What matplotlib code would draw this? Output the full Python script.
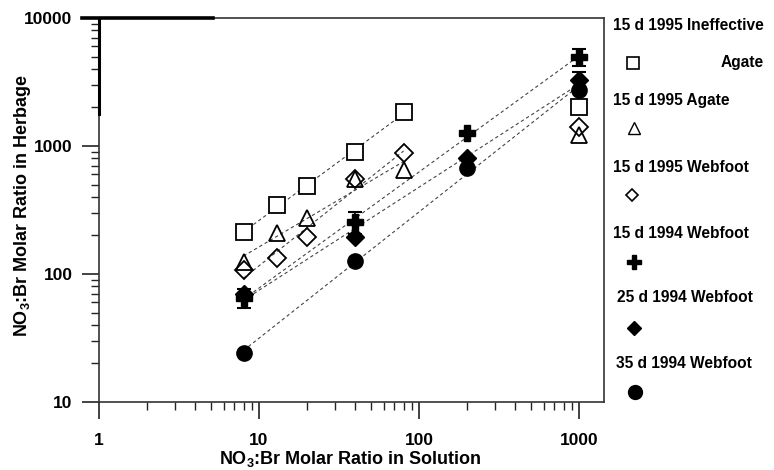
# -*- coding: utf-8 -*-

# NO3:Br ratio in herbage vs. ratio in solution, log-log scatter with fit lines
import numpy as np
import matplotlib
matplotlib.use('Agg')
import matplotlib.pyplot as plt
from matplotlib.lines import Line2D
from matplotlib.ticker import NullFormatter

plt.rcParams['font.family'] = ['Liberation Sans', 'DejaVu Sans']
plt.rcParams['font.weight'] = 'bold'
plt.rcParams['mathtext.fontset'] = 'custom'
plt.rcParams['mathtext.rm'] = 'Liberation Sans:bold'
plt.rcParams['mathtext.default'] = 'rm'

# 1995 harvests (15 d)
ineff_x = [8, 13, 20, 40, 80, 1000]
ineff_y = [213, 346, 487, 898, 1846, 2018]
agate_x = [8, 13, 20, 40, 80, 1000]
agate_y = [124, 209, 274, 552, 649, 1219]
web95_x = [8, 13, 20, 40, 80, 1000]
web95_y = [107, 133, 195, 552, 881, 1407]

# 1994 Webfoot harvests
web94_x = [8, 40, 200, 1000]
web94_15_y = [65, 255, 1260, 4950]
web94_15_err = [11, 50, 0, 750]
web94_25_y = [70, 195, 806, 3280]
web94_25_err = [0, 0, 0, 500]
web94_35_y = [24, 127, 673, 2740]

labels = ['15 d 1995 Ineffective', '15 d 1995 Agate', '15 d 1995 Webfoot',
          '15 d 1994 Webfoot', '25 d 1994 Webfoot', '35 d 1994 Webfoot']

fig = plt.figure(figsize=(7.74, 4.70), dpi=100)
ax = fig.add_axes([0.1279, 0.1447, 0.6525, 0.817])


def fit_line(x, y, xmax):
    # least squares in log space over the points up to xmax
    x = np.array(x, float)
    y = np.array(y, float)
    m = x <= xmax
    p = np.polyfit(np.log10(x[m]), np.log10(y[m]), 1)
    xs = np.array([x[m].min(), x[m].max()])
    ax.plot(xs, 10 ** np.polyval(p, np.log10(xs)), color='#444444',
            lw=0.8, ls=(0, (3, 2.5)), zorder=1)


fit_line(ineff_x, ineff_y, 80)
fit_line(agate_x, agate_y, 80)
fit_line(web95_x, web95_y, 80)
fit_line(web94_x, web94_15_y, 1000)
fit_line(web94_x, web94_25_y, 1000)
fit_line(web94_x, web94_35_y, 1000)

ms = 11
ax.plot(ineff_x, ineff_y, 's', ms=ms, mfc='white', mec='black', mew=1.3, zorder=3)
ax.plot(agate_x, agate_y, '^', ms=ms, mfc='none', mec='black', mew=1.3, zorder=3)
ax.plot(web95_x, web95_y, 'D', ms=9.5, mfc='none', mec='black', mew=1.3, zorder=3)
ax.errorbar(web94_x, web94_25_y, yerr=web94_25_err, fmt='D', ms=9, color='black',
            capsize=5, elinewidth=1.2, capthick=1.5, zorder=4)
ax.errorbar(web94_x, web94_15_y, yerr=web94_15_err, fmt='P', ms=12, color='black',
            capsize=5, elinewidth=1.2, capthick=1.5, zorder=5)
ax.plot(web94_x, web94_35_y, 'o', ms=11, color='black', zorder=4)

ax.set_xscale('log')
ax.set_yscale('log')
ax.set_xlim(1, 1430)
ax.set_ylim(10, 10000)
ax.set_xticks([1, 10, 100, 1000], labels=['1', '10', '100', '1000'])
ax.set_yticks([10, 100, 1000, 10000], labels=['10', '100', '1000', '10000'])
ax.xaxis.set_minor_formatter(NullFormatter())
ax.yaxis.set_minor_formatter(NullFormatter())

ax.tick_params(which='both', direction='out', labelsize=12.5, color='#222222')
ax.tick_params(which='major', length=12, width=1.2)
ax.tick_params(which='minor', length=6, width=1.0)
ax.tick_params(axis='x', pad=10)
ax.tick_params(axis='y', pad=7)
for s in ax.spines.values():
    s.set_linewidth(1.2)
    s.set_color('#333333')

# heavy stroke along the upper left corner of the frame
ax.plot([-0.033, 0.225], [1, 1], transform=ax.transAxes, color='black',
        lw=2.6, clip_on=False, zorder=6)
ax.plot([0, 0], [0.75, 1], transform=ax.transAxes, color='black',
        lw=2.2, clip_on=False, zorder=6)

ax.set_xlabel('NO$_3$:Br Molar Ratio in Solution', fontsize=13,
              fontweight='bold')
ax.set_ylabel('NO$_3$:Br Molar Ratio in Herbage', fontsize=13,
              fontweight='bold')
ax.xaxis.set_label_coords(0.497, -0.122)
ax.yaxis.set_label_coords(-0.152, 0.513)
ax.xaxis.label.set_va('top')
ax.yaxis.label.set_va('center')

# legend: label text with its marker underneath
W, H = 774.0, 470.0
text_pos = [(613, 25), (613, 100), (613, 167), (613, 233), (617, 298), (616, 363)]
mark_pos = [(633, 63), (634, 128), (632, 195), (634, 262), (634, 328), (635, 392)]
mark_style = [dict(marker='s', ms=9, mfc='white', mec='black', mew=1.2),
              dict(marker='^', ms=8, mfc='white', mec='black', mew=1.0),
              dict(marker='D', ms=6, mfc='white', mec='black', mew=1.2),
              dict(marker='P', ms=10, mfc='black', mec='black'),
              dict(marker='D', ms=7, mfc='black', mec='black'),
              dict(marker='o', ms=10, mfc='black', mec='black')]
for lab, (tx, ty), (mx, my), st in zip(labels, text_pos, mark_pos, mark_style):
    fig.text(tx / W, 1 - ty / H, lab, fontsize=11.2, fontweight='bold',
             ha='left', va='center')
    fig.add_artist(Line2D([mx / W], [1 - my / H], transform=fig.transFigure,
                          ls='none', **st))
fig.text(742 / W, 1 - 63 / H, 'Agate', fontsize=11.2, fontweight='bold',
         ha='center', va='center')

fig.savefig('out.png', dpi=100)
